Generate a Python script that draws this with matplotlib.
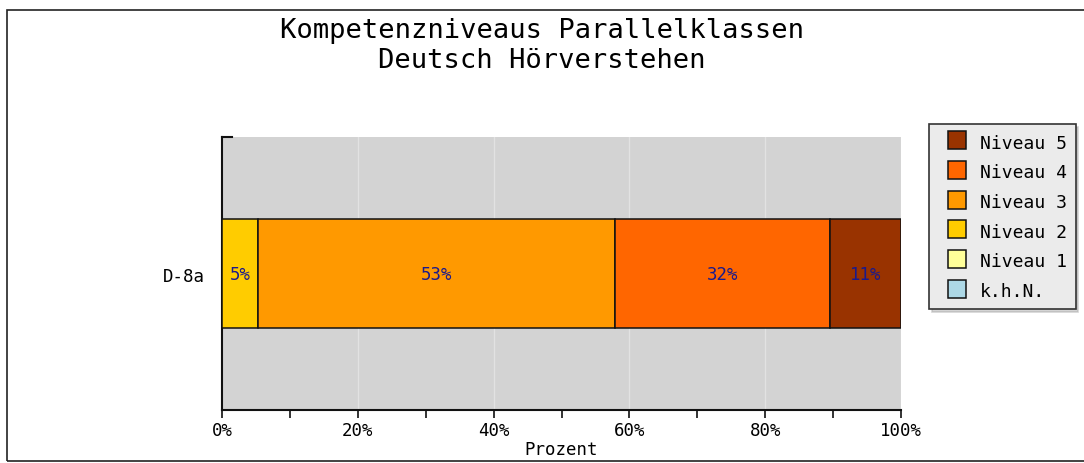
import matplotlib
matplotlib.use('Agg')
import matplotlib.pyplot as plt
from matplotlib.patches import Rectangle
from matplotlib.lines import Line2D

# Daten
klasse = ['D-8a']
niveaus = ['k.h.N.', 'Niveau 1', 'Niveau 2', 'Niveau 3', 'Niveau 4', 'Niveau 5']
farben = ['#add8e6', '#ffff99', '#ffcc00', '#ff9900', '#ff6600', '#993300']
prozent = [0.0, 0.0, 5.26, 52.63, 31.58, 10.53]
beschriftung = ['', '', '5%', '53%', '32%', '11%']

plt.rcParams['font.family'] = 'DejaVu Sans Mono'

W, H = 1084, 464
fig = plt.figure(figsize=(W / 100, H / 100), dpi=100)

# Rahmen um die Grafik
fig.patches.append(Rectangle((7 / W, 2 / H), 1.2, (462 - 11) / H, transform=fig.transFigure,
                             fill=False, edgecolor='#222222', linewidth=1.2))

ax = fig.add_axes([222 / W, (H - 411) / H, (901 - 222) / W, (411 - 138) / H])
ax.set_facecolor('#d3d3d3')

links = 0
for name, farbe, wert, text in zip(niveaus, farben, prozent, beschriftung):
    if wert > 0:
        ax.barh(0, wert, left=links, height=0.4, color=farbe, edgecolor='#111111', linewidth=1.1, zorder=3)
        ax.text(links + wert / 2, 0, text, ha='center', va='center', color='#1a1a8c', fontsize=12.5, zorder=4)
    links += wert

ax.set_xlim(0, 100)
ax.set_ylim(-0.5, 0.5)
ax.set_yticks([0])
ax.set_yticklabels(klasse, fontsize=12.5)
ax.tick_params(axis='y', length=0, pad=12)
ax.set_xticks(range(0, 101, 20))
ax.set_xticklabels([f'{v}%' for v in range(0, 101, 20)], fontsize=12.5)
ax.set_xticks(range(10, 100, 20), minor=True)
ax.tick_params(axis='x', which='both', direction='out', length=6, width=1.2, pad=2, color='#111111')
ax.grid(axis='x', color='#e2e2e2', linewidth=1, zorder=0)
ax.set_axisbelow(True)
for s in ['top', 'right']:
    ax.spines[s].set_visible(False)
for s in ['left', 'bottom']:
    ax.spines[s].set_linewidth(1.5)
    ax.spines[s].set_color('#111111')
ax.plot([0, 0.015], [1, 1], transform=ax.transAxes, color='#111111', linewidth=1.5, clip_on=False)
ax.set_xlabel('Prozent', fontsize=12.5, labelpad=1)

fig.text(0.5, (H - 46) / H, 'Kompetenzniveaus Parallelklassen\nDeutsch Hörverstehen',
         ha='center', va='center', fontsize=19.5, linespacing=1.17)

# Legende
griffe = [Line2D([], [], linestyle='none', marker='s', markersize=13.5, markerfacecolor=f,
                 markeredgecolor='#111111', markeredgewidth=1.1, label=n)
          for n, f in zip(niveaus[::-1], farben[::-1])]
leg = fig.legend(handles=griffe, loc='upper left', bbox_to_anchor=(929 / W, (H - 125) / H),
                 fontsize=13, frameon=True, fancybox=False, shadow={'color': '#aaaaaa'},
                 handlelength=2.1, handleheight=1.1, handletextpad=0.2, labelspacing=0.6,
                 borderpad=0.5, borderaxespad=0)
leg.get_frame().set_facecolor('#ebebeb')
leg.get_frame().set_edgecolor('#333333')
leg.get_frame().set_linewidth(1.2)

fig.savefig('out.png', dpi=100)
